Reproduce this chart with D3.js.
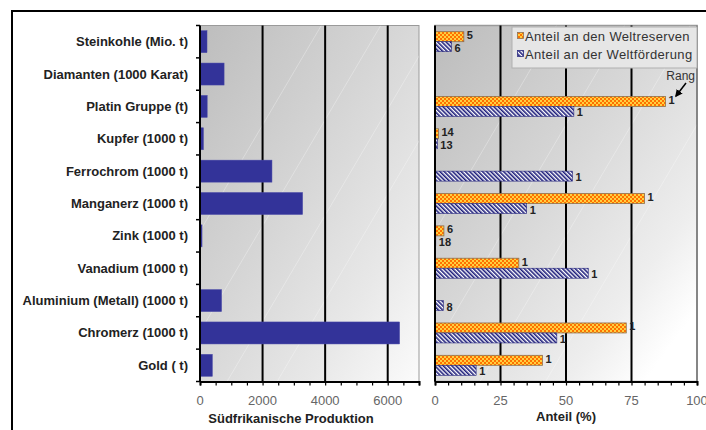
<!DOCTYPE html>
<html><head><meta charset="utf-8">
<script src="https://cdn.jsdelivr.net/npm/d3@7"></script>
<style>body{margin:0;background:#fff;overflow:hidden} text{font-family:"Liberation Sans",Arial,sans-serif}</style>
</head><body><svg id="c" width="706" height="430"></svg>
<script>
const categories = ["Steinkohle (Mio. t)", "Diamanten (1000 Karat)", "Platin Gruppe (t)", "Kupfer (1000 t)", "Ferrochrom (1000 t)", "Manganerz (1000 t)", "Zink (1000 t)", "Vanadium (1000 t)", "Aluminium (Metall) (1000 t)", "Chromerz (1000 t)", "Gold ( t)"];
const production = [224, 770, 230, 110, 2300, 3280, 65, 20, 690, 6380, 395];
const reserveShare = [11, null, 88, 1.3, null, 80, 3.4, 32, null, 73, 41];
const reserveRank = ["5", null, "1", "14", null, "1", "6", "1", null, "1", "1"];
const outputShare = [6.3, null, 53, 0.9, 52.5, 35, 0.3, 58.5, 3.2, 46.5, 15.7];
const outputRank = ["6", null, "1", "13", "1", "1", "18", "1", "8", "1", "1"];
const leftTicks = [0, 2000, 4000, 6000];
const rightTicks = [0, 25, 50, 75, 100];
const seriesNames = ["Anteil an den Weltreserven", "Anteil an der Weltförderung"];

const svg = d3.select("#c");
const defs = svg.append("defs");

function grad(id, stops) {
  const g = defs.append("linearGradient").attr("id", id)
    .attr("x1", 0).attr("y1", 0).attr("x2", 1).attr("y2", 1);
  stops.forEach(s => g.append("stop").attr("offset", s[0]).attr("stop-color", s[1]));
}
grad("gl", [[0, "#bdbdbd"], [0.45, "#d6d6d6"], [0.75, "#e8e8e8"], [1, "#fbfbfb"]]);
grad("gr", [[0, "#bcbcbc"], [0.45, "#d8d8d8"], [0.75, "#eeeeee"], [0.9, "#ffffff"], [1, "#ffffff"]]);

const chk = defs.append("pattern").attr("id", "chk").attr("patternUnits", "userSpaceOnUse")
  .attr("width", 4).attr("height", 4);
chk.append("rect").attr("width", 4).attr("height", 4).attr("fill", "#ff7000");
chk.append("rect").attr("width", 2).attr("height", 2).attr("fill", "#ffd040");
chk.append("rect").attr("x", 2).attr("y", 2).attr("width", 2).attr("height", 2).attr("fill", "#ffd040");

const str = defs.append("pattern").attr("id", "str").attr("patternUnits", "userSpaceOnUse")
  .attr("width", 3).attr("height", 3).attr("patternTransform", "rotate(-45)");
str.append("rect").attr("width", 3).attr("height", 3).attr("fill", "#ffffff");
str.append("rect").attr("width", 1.6).attr("height", 3).attr("fill", "#1c1c7a");

// outer frame
svg.append("rect").attr("x", 12).attr("y", 11).attr("width", 720).attr("height", 440)
  .attr("fill", "none").attr("stroke", "#000").attr("stroke-width", 2);

const yTop = 25.5, yBot = 381.5;
const y = d3.scaleBand().domain(categories).range([yTop, yBot]).paddingInner(0.32).paddingOuter(0.16);
const step = y.step();

// ---------- left chart ----------
const xL = d3.scaleLinear().domain([0, 7000]).range([200, 419]);
const gL = svg.append("g");
gL.append("rect").attr("x", xL(0)).attr("y", yTop).attr("width", xL(7000) - xL(0)).attr("height", yBot - yTop)
  .attr("fill", "url(#gl)").attr("stroke", "#9a9a9a").attr("stroke-width", 1);
const clipL = defs.append("clipPath").attr("id", "clipL");
clipL.append("rect").attr("x", xL(0)).attr("y", yTop).attr("width", xL(7000) - xL(0)).attr("height", yBot - yTop);
const streakL = gL.append("g").attr("clip-path", "url(#clipL)");
[1000, 2900, 4700, 6300].forEach(v => {
  streakL.append("line").attr("x1", xL(v) - 120).attr("y1", yBot).attr("x2", xL(v) + 90).attr("y2", yTop)
    .attr("stroke", "#ffffff").attr("stroke-opacity", 0.3).attr("stroke-width", 1);
});
gL.selectAll(".grid").data(leftTicks.filter(d => d > 0)).join("line")
  .attr("x1", d => xL(d)).attr("x2", d => xL(d)).attr("y1", yTop).attr("y2", yBot)
  .attr("stroke", "#000").attr("stroke-width", 2);
gL.selectAll(".bar").data(categories).join("rect")
  .attr("x", xL(0)).attr("y", d => y(d))
  .attr("width", (d, i) => xL(production[i]) - xL(0)).attr("height", y.bandwidth())
  .attr("fill", "#333399").attr("stroke", "#4a4aa8").attr("stroke-width", 0.5);
gL.append("line").attr("x1", xL(0)).attr("x2", xL(0)).attr("y1", yTop).attr("y2", yBot)
  .attr("stroke", "#000").attr("stroke-width", 2);
const bounds = categories.map(c => y(c) + y.bandwidth() / 2 - step / 2).concat([yBot]);
gL.selectAll(".yt").data(bounds).join("line")
  .attr("x1", xL(0) - 4).attr("x2", xL(0)).attr("y1", d => d).attr("y2", d => d)
  .attr("stroke", "#000").attr("stroke-width", 1.5);
gL.selectAll(".lab").data(categories).join("text")
  .attr("x", 188).attr("y", d => y(d) + y.bandwidth() / 2 + 4.5)
  .attr("text-anchor", "end").attr("font-size", 13).attr("font-weight", "bold").attr("fill", "#222")
  .text(d => d);
const axL = gL.append("g").attr("transform", `translate(0,${yBot})`)
  .call(d3.axisBottom(xL).ticks(14).tickSize(4).tickFormat(""));
axL.select(".domain").attr("stroke-width", 2);
axL.selectAll(".tick line").attr("stroke-width", 1.2);
gL.selectAll(".xl").data(leftTicks).join("text")
  .attr("x", d => xL(d)).attr("y", 405).attr("text-anchor", "middle")
  .attr("font-size", 13).attr("fill", "#666").text(d => d);
gL.append("text").attr("x", 291).attr("y", 423).attr("text-anchor", "middle")
  .attr("font-size", 13).attr("font-weight", "bold").attr("fill", "#222").text("Südfrikanische Produktion");

// ---------- right chart ----------
const xR = d3.scaleLinear().domain([0, 100]).range([435, 697]);
const sub = d3.scaleBand().domain(["res", "prod"]).range([-10, 10]);
const gR = svg.append("g");
gR.append("rect").attr("x", xR(0)).attr("y", yTop).attr("width", xR(100) - xR(0)).attr("height", yBot - yTop)
  .attr("fill", "url(#gr)").attr("stroke", "#9a9a9a").attr("stroke-width", 1.5);
const clipR = defs.append("clipPath").attr("id", "clipR");
clipR.append("rect").attr("x", xR(0)).attr("y", yTop).attr("width", xR(100) - xR(0)).attr("height", yBot - yTop);
const streakR = gR.append("g").attr("clip-path", "url(#clipR)");
[12, 38, 63, 88].forEach(v => {
  streakR.append("line").attr("x1", xR(v) - 120).attr("y1", yBot).attr("x2", xR(v) + 90).attr("y2", yTop)
    .attr("stroke", "#ffffff").attr("stroke-opacity", 0.3).attr("stroke-width", 1);
});
gR.selectAll(".grid").data(rightTicks.filter(d => d > 0 && d < 100)).join("line")
  .attr("x1", d => xR(d)).attr("x2", d => xR(d)).attr("y1", yTop).attr("y2", yBot)
  .attr("stroke", "#000").attr("stroke-width", 2);
gR.append("line").attr("x1", xR(100)).attr("x2", xR(100)).attr("y1", yTop).attr("y2", yBot)
  .attr("stroke", "#777").attr("stroke-width", 1.5);

const rows = categories.map((c, i) => ({ c, i }));
const mid = c => y(c) + y.bandwidth() / 2;
gR.selectAll(".rb").data(rows.filter(r => reserveShare[r.i] != null)).join("rect")
  .attr("x", xR(0)).attr("y", r => mid(r.c) + sub("res"))
  .attr("width", r => xR(reserveShare[r.i]) - xR(0)).attr("height", sub.bandwidth())
  .attr("fill", "url(#chk)").attr("stroke", "#8c7050").attr("stroke-width", 0.8);
gR.selectAll(".pb").data(rows.filter(r => outputShare[r.i] != null)).join("rect")
  .attr("x", xR(0)).attr("y", r => mid(r.c) + sub("prod"))
  .attr("width", r => xR(outputShare[r.i]) - xR(0)).attr("height", sub.bandwidth())
  .attr("fill", "url(#str)").attr("stroke", "#2a2a80").attr("stroke-width", 0.6);
gR.selectAll(".rl").data(rows.filter(r => reserveRank[r.i] != null)).join("text")
  .attr("x", r => xR(reserveShare[r.i]) + 3).attr("y", r => mid(r.c) + sub("res") + 7.5)
  .attr("font-size", 11).attr("font-weight", "bold").attr("fill", "#222").text(r => reserveRank[r.i]);
gR.selectAll(".pl").data(rows.filter(r => outputRank[r.i] != null)).join("text")
  .attr("x", r => xR(outputShare[r.i]) + 3).attr("y", r => mid(r.c) + sub("prod") + 10)
  .attr("font-size", 11).attr("font-weight", "bold").attr("fill", "#222").text(r => outputRank[r.i]);

gR.append("line").attr("x1", xR(0)).attr("x2", xR(0)).attr("y1", yTop).attr("y2", yBot)
  .attr("stroke", "#000").attr("stroke-width", 2);
const axR = gR.append("g").attr("transform", `translate(0,${yBot})`)
  .call(d3.axisBottom(xR).ticks(20).tickSize(4).tickFormat(""));
axR.select(".domain").attr("stroke-width", 2);
axR.selectAll(".tick line").attr("stroke-width", 1.2);
gR.selectAll(".xr").data(rightTicks).join("text")
  .attr("x", d => xR(d)).attr("y", 405).attr("text-anchor", "middle")
  .attr("font-size", 13).attr("fill", "#666").text(d => d);
gR.append("text").attr("x", 566).attr("y", 421).attr("text-anchor", "middle")
  .attr("font-size", 13).attr("font-weight", "bold").attr("fill", "#222").text("Anteil (%)");

// legend
const lg = svg.append("g");
lg.append("rect").attr("x", 512).attr("y", 27).attr("width", 185).attr("height", 41)
  .attr("fill", "#e6e6e6").attr("stroke", "#b0b0b0").attr("stroke-width", 1);
const fills = ["url(#chk)", "url(#str)"];
const strokes = ["#8c7050", "#2a2a80"];
seriesNames.forEach((n, i) => {
  lg.append("rect").attr("x", 517.5).attr("y", 32.5 + i * 18).attr("width", 6).attr("height", 6)
    .attr("fill", fills[i]).attr("stroke", strokes[i]).attr("stroke-width", 0.8);
  lg.append("text").attr("x", 525).attr("y", 41 + i * 18).attr("font-size", 13)
    .attr("letter-spacing", 0.35).attr("fill", "#333").text(n);
});

// Rang annotation
svg.append("text").attr("x", 695).attr("y", 80).attr("text-anchor", "end")
  .attr("font-size", 12).attr("fill", "#333").text("Rang");
defs.append("marker").attr("id", "ah").attr("viewBox", "0 0 10 10").attr("refX", 8).attr("refY", 5)
  .attr("markerWidth", 5).attr("markerHeight", 5).attr("orient", "auto")
  .append("path").attr("d", "M0,0L10,5L0,10z").attr("fill", "#000");
svg.append("line").attr("x1", 686).attr("y1", 83).attr("x2", 676).attr("y2", 96)
  .attr("stroke", "#000").attr("stroke-width", 1.5).attr("marker-end", "url(#ah)");
</script></body></html>
